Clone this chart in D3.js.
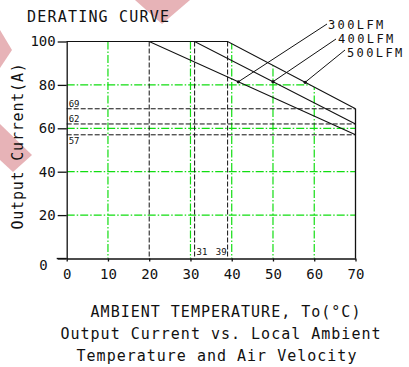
<!DOCTYPE html>
<html>
<head>
<meta charset="utf-8">
<script src="https://cdn.jsdelivr.net/npm/d3@7"></script>
<style>
  body { margin: 0; background: #fff; }
  svg text { font-family: "DejaVu Sans Mono", monospace; fill: #111; }
</style>
</head>
<body>
<div id="chart"></div>
<script>
// derating curves, one per air velocity
const airflow = ['300LFM', '400LFM', '500LFM'];
const kneeTemp = [20, 31, 39];      // full current up to this temperature
const endCurrent = [57, 62, 69];    // current at 70 degC
const leaderTemp = [41.6, 50, 57.8]; // where each label leader touches its curve
const xTicks = [0, 10, 20, 30, 40, 50, 60, 70];
const yTicks = [0, 20, 40, 60, 80, 100];
const gridX = [10, 30, 40, 50, 60];
const gridY = [20, 40, 60, 80];
const maxTemp = 70;

const width = 409, height = 367;

const svg = d3.select('#chart').append('svg')
    .attr('width', width)
    .attr('height', height);

// watermark bits from the source image
svg.append('polygon').attr('points', '135,0 190,0 162,24').attr('fill', '#e7b3b7');
svg.append('polygon').attr('points', '0,30 12,50 0,68').attr('fill', '#e7b3b7');
svg.append('polygon').attr('points', '0,124 32,155 13,172 0,160').attr('fill', '#e7b3b7');

const x = d3.scaleLinear().domain([0, 70]).range([66.7, 355.5]);
const y = d3.scaleLinear().domain([0, 100]).range([258.5, 41.5]);

const curvePts = (i) => [[0, 100], [kneeTemp[i], 100], [maxTemp, endCurrent[i]]];
const line = d3.line().x(d => x(d[0])).y(d => y(d[1]));

// green grid only lives under the outer (500LFM) curve
const env = curvePts(2).concat([[maxTemp, 0], [0, 0]]);
svg.append('defs').append('clipPath').attr('id', 'env')
    .append('path').attr('d', line(env) + 'Z');

const grid = svg.append('g').attr('clip-path', 'url(#env)')
    .attr('stroke', '#11dd11').attr('stroke-width', 1.2)
    .attr('stroke-dasharray', '8,2,1.5,2');
grid.selectAll('.gx').data(gridX).join('line')
    .attr('x1', d => x(d)).attr('x2', d => x(d))
    .attr('y1', y(100)).attr('y2', y(0));
grid.selectAll('.gy').data(gridY).join('line')
    .attr('x1', x(0)).attr('x2', x(maxTemp))
    .attr('y1', d => y(d)).attr('y2', d => y(d));

// black dashed reference lines
const ref = svg.append('g').attr('stroke', '#111').attr('stroke-width', 1)
    .attr('stroke-dasharray', '5,2');
ref.selectAll('.rv').data(kneeTemp).join('line')
    .attr('x1', d => x(d)).attr('x2', d => x(d))
    .attr('y1', y(100)).attr('y2', y(0));
ref.selectAll('.rh').data(endCurrent).join('line')
    .attr('x1', x(0)).attr('x2', x(maxTemp))
    .attr('y1', d => y(d)).attr('y2', d => y(d));

// small value labels on the reference lines
const small = svg.append('g').style('font-family', '"DejaVu Sans Condensed", sans-serif')
    .style('font-size', '9px');
small.selectAll('.hl').data(endCurrent).join('text')
    .attr('x', x(0) + 2)
    .attr('y', (d, i) => i === 0 ? y(d) + 9 : y(d) - 2)
    .text(d => d);
small.selectAll('.vl').data(kneeTemp.slice(1)).join('text')
    .attr('x', (d, i) => i === 0 ? x(d) + 2 : x(d) - 1)
    .attr('y', y(0) - 4)
    .attr('text-anchor', (d, i) => i === 0 ? 'start' : 'end')
    .text(d => d);

// curves
svg.selectAll('.curve').data(airflow).join('path')
    .attr('class', 'curve')
    .attr('d', (d, i) => line(curvePts(i)))
    .attr('fill', 'none').attr('stroke', '#111').attr('stroke-width', 1.1);

// right border
svg.append('line')
    .attr('x1', x(maxTemp)).attr('x2', x(maxTemp))
    .attr('y1', y(0)).attr('y2', y(endCurrent[2]))
    .attr('stroke', '#111').attr('stroke-width', 1.3);

// axes
const yAxis = svg.append('g').attr('transform', `translate(${x(0)},0)`)
    .call(d3.axisLeft(y).tickValues(yTicks).tickSize(9).tickSizeOuter(0).tickPadding(2));
const xAxis = svg.append('g').attr('transform', `translate(0,${y(0)})`)
    .call(d3.axisBottom(x).tickValues(xTicks).tickSize(3).tickSizeOuter(0).tickPadding(8));
[yAxis, xAxis].forEach(a => {
    a.selectAll('path, line').attr('stroke', '#111').attr('stroke-width', 1.3);
    a.selectAll('text').style('font-family', '"DejaVu Sans Mono", monospace')
        .style('font-size', '14px').attr('fill', '#111');
});
yAxis.selectAll('.tick').filter(d => d === 0).select('text')
    .attr('dy', '0.75em').attr('x', -19);
svg.append('line')
    .attr('x1', x(0) - 10).attr('x2', x(0))
    .attr('y1', y(0)).attr('y2', y(0))
    .attr('stroke', '#111').attr('stroke-width', 1.3);

// labels with leaders
const labX = [328, 338, 347];
const labY = [29, 43, 57];
const leadStart = [[327, 24], [336, 39], [345, 50]];
airflow.forEach((name, i) => {
    const t = leaderTemp[i];
    const c = 100 - (100 - endCurrent[i]) * (t - kneeTemp[i]) / (maxTemp - kneeTemp[i]);
    svg.append('line')
        .attr('x1', leadStart[i][0]).attr('y1', leadStart[i][1])
        .attr('x2', x(t)).attr('y2', y(c))
        .attr('stroke', '#111').attr('stroke-width', 1);
    svg.append('circle').attr('cx', x(t)).attr('cy', y(c)).attr('r', 1.6).attr('fill', '#111');
    svg.append('text').attr('x', labX[i]).attr('y', labY[i])
        .style('font-size', '12px').style('letter-spacing', '2.4px')
        .text(name);
});

// titles
svg.append('text').attr('x', 27).attr('y', 22)
    .style('font-size', '15px').style('letter-spacing', '1.2px')
    .text('DERATING CURVE');
svg.append('text')
    .attr('transform', 'translate(23,146) rotate(-90)')
    .attr('text-anchor', 'middle')
    .style('font-size', '15px').style('letter-spacing', '0.8px')
    .text('Output Current(A)');

const footer = ['AMBIENT TEMPERATURE, To(°C)', 'Output Current vs. Local Ambient', 'Temperature and Air Velocity'];
const footX = [226, 221, 217];
const footY = [317, 339, 361];
svg.selectAll('.foot').data(footer).join('text')
    .attr('x', (d, i) => footX[i]).attr('y', (d, i) => footY[i])
    .attr('text-anchor', 'middle')
    .style('font-size', '15px').style('letter-spacing', '1px')
    .text(d => d);
</script>
</body>
</html>
